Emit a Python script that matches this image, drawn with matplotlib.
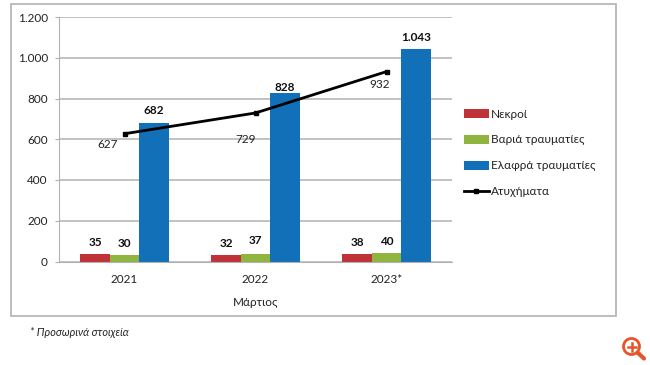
import matplotlib.pyplot as plt
from matplotlib.patches import Rectangle, Circle
from matplotlib.lines import Line2D
from matplotlib.ticker import FuncFormatter

plt.rcParams['font.family'] = ['Lato', 'Noto Sans', 'DejaVu Sans']

years = ['2021', '2022', '2023*']
nekroi = [35, 32, 38]
varia = [30, 37, 40]
elafra = [682, 828, 1043]
atyximata = [627, 729, 932]

W, H = 650, 365
red = '#bf3338'
green = '#8fb53f'
blue = '#1170b8'
grey = '#b2b2b2'
text_col = '#222222'


def dotted(v):
    return f'{int(v):,}'.replace(',', '.')


fig = plt.figure(figsize=(W / 100, H / 100), dpi=100)

# outer frame of the chart
fig.add_artist(Rectangle((11 / W, 1 - 316 / H), 605 / W, 312 / H, transform=fig.transFigure,
                         fill=False, edgecolor=grey, linewidth=1.2))

ax = fig.add_axes([59 / W, 1 - 261.5 / H, 393 / W, 244.5 / H])
x = list(range(len(years)))
width = 0.224

ax.bar([i - width for i in x], nekroi, width, color=red, label='Νεκροί', zorder=2)
ax.bar(x, varia, width, color=green, label='Βαριά τραυματίες', zorder=2)
ax.bar([i + width for i in x], elafra, width, color=blue, label='Ελαφρά τραυματίες', zorder=2)
ax.plot(x, atyximata, color='black', linewidth=2, marker='s', markersize=3.5,
        label='Ατυχήματα', zorder=3)

ax.set_xlim(-0.5, 2.5)
ax.set_ylim(0, 1200)
ax.set_yticks(range(0, 1201, 200))
ax.yaxis.set_major_formatter(FuncFormatter(lambda v, pos: dotted(v)))
ax.set_xticks(x)
ax.set_xticklabels(years)
ax.set_xlabel('Μάρτιος', fontsize=8.5, color=text_col, labelpad=9)
ax.grid(axis='y', color=grey, linewidth=1.1, zorder=0)
ax.set_axisbelow(True)
for s in ['top', 'right']:
    ax.spines[s].set_visible(False)
ax.spines['left'].set_color(grey)
ax.spines['bottom'].set_color(grey)
ax.tick_params(axis='y', length=3, color=grey, labelsize=8.5, labelcolor=text_col, pad=5)
ax.tick_params(axis='x', length=0, labelsize=8.5, labelcolor=text_col, pad=9)

# bar value labels, bold. the offsets differ a bit per label in the original
bar_series = [(nekroi, -width, [4.5, 4.5, 4.5]), (varia, 0, [4.5, 6, 4.5]),
              (elafra, width, [5, 0, 4])]
for vals, dx, lifts in bar_series:
    for i in x:
        ax.annotate(dotted(vals[i]), (i + dx, vals[i]), xytext=(0, lifts[i]), textcoords='offset points',
                    ha='center', va='bottom', fontsize=8.5, fontweight='bold', color='#111111')

# line labels sit below-left of the points
for i, off in zip(x, [(-12, -7.5), (-7, -19), (-5, -9)]):
    ax.annotate(dotted(atyximata[i]), (i, atyximata[i]), xytext=off, textcoords='offset points',
                ha='center', va='center', fontsize=8.5, color=text_col, zorder=4)

# legend order in the original: bars first, then the line
handles, labels = ax.get_legend_handles_labels()
order = [labels.index(n) for n in ['Νεκροί', 'Βαριά τραυματίες', 'Ελαφρά τραυματίες', 'Ατυχήματα']]
ax.legend([handles[k] for k in order], [labels[k] for k in order],
          loc='upper left', bbox_to_anchor=(464 / W, 1 - 108.5 / H), bbox_transform=fig.transFigure,
          frameon=False, fontsize=8.5, handlelength=2.1, handleheight=0.8, handletextpad=0.2,
          labelspacing=1.27, borderpad=0, borderaxespad=0, labelcolor=text_col)

fig.text(30 / W, 1 - 333 / H, '* Προσωρινά στοιχεία', fontsize=7.8, style='italic',
         color=text_col, va='center')

# zoom icon, bottom right
orange = '#e8542a'
icon = fig.add_axes([0, 0, 1, 1], facecolor='none')
icon.set_xlim(0, W)
icon.set_ylim(H, 0)
icon.axis('off')
icon.add_patch(Circle((631.5, 346.5), 8, fill=False, edgecolor=orange, linewidth=2))
icon.add_line(Line2D([637.5, 644], [352.5, 358.5], color=orange, linewidth=3, solid_capstyle='round'))
icon.add_line(Line2D([627.5, 635.5], [346.5, 346.5], color=orange, linewidth=1.8))
icon.add_line(Line2D([631.5, 631.5], [342.5, 350.5], color=orange, linewidth=1.8))

fig.savefig('out.png', dpi=100)
